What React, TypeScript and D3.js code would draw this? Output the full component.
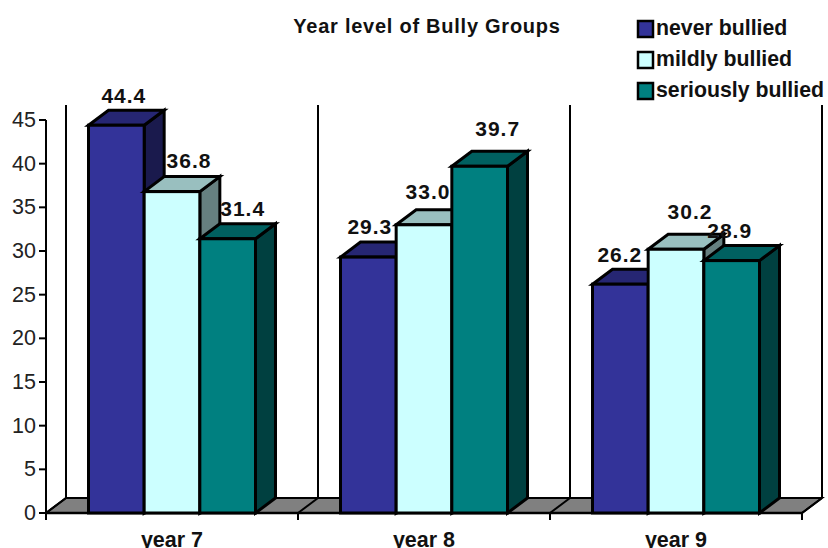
import React from "react";
import * as d3 from "d3";

const categories = ["year 7", "year 8", "year 9"];
const seriesNames = ["never bullied", "mildly bullied", "seriously bullied"];
const neverBullied = [44.4, 29.3, 26.2];
const mildlyBullied = [36.8, 33.0, 30.2];
const seriouslyBullied = [31.4, 39.7, 28.9];
const yTicks = [0, 5, 10, 15, 20, 25, 30, 35, 40, 45];
const title = "Year level of Bully Groups";

const fills = ["#333399", "#CCFFFF", "#008080"];
const tops = ["#262673", "#99BFBF", "#006060"];
const sides = ["#1A1A4D", "#668080", "#004040"];
const labelDx = [[7.5, 17, 15], [1.5, 4, 18], [-0.5, 14, -2]];
const labelDy = [[-22, -24, -23], [-23, -26, -30], [-22, -30, -23]];

const W = 828, H = 548;
const x0 = 46, x1 = 802, yBase = 513, yTop = 120, DX = 20, DY = 15;
const FONT = "'Liberation Sans', Arial, sans-serif";
const STROKE = 3;

export default function App() {
  const values = [neverBullied, mildlyBullied, seriouslyBullied];
  const y = d3.scaleLinear().domain([0, 45]).range([yBase, yTop]);
  const xBand = d3.scaleBand<string>().domain(categories).range([x0, x1]);
  const xInner = d3.scaleBand<string>().domain(seriesNames).range([0, 167]);
  const groupPad = (xBand.bandwidth() - 167) / 2;
  const bars = categories.flatMap((c, ci) => seriesNames.map((s, si) => {
    const v = values[si][ci];
    const left = (xBand(c) as number) + groupPad + (xInner(s) as number);
    return { c, ci, s, si, v, left, right: left + xInner.bandwidth(), top: y(v) };
  }));
  const boundaries = d3.range(categories.length + 1).map(i => x0 + i * xBand.step());
  const poly = (pts: number[][]) => pts.map(p => p.join(",")).join(" ");

  return (
    <svg width={W} height={H} viewBox={`0 0 ${W} ${H}`} style={{ position: "absolute", left: 0, top: 0, background: "#fff" }} fontFamily={FONT}>
      <polygon points={poly([[x0, yBase], [x0 + DX, yBase - DY], [x1 + DX, yBase - DY], [x1, yBase]])} fill="#808080" stroke="#000" strokeWidth={STROKE - 1} />
      {boundaries.map(b => (
        <g key={b}>
          <line x1={b + DX} x2={b + DX} y1={105} y2={yBase - DY} stroke="#000" strokeWidth={2} />
          <line x1={b} x2={b + DX} y1={yBase} y2={yBase - DY} stroke="#000" strokeWidth={2} />
          <line x1={b} x2={b} y1={yBase} y2={yBase + 7} stroke="#000" strokeWidth={2} />
        </g>
      ))}
      <line x1={x0} x2={x0} y1={yTop} y2={yBase} stroke="#000" strokeWidth={2} />
      <line x1={x0 - 1} x2={x1 + 1} y1={yBase} y2={yBase} stroke="#000" strokeWidth={2.5} />
      {yTicks.map(t => (
        <g key={t}>
          <line x1={x0 - 7} x2={x0} y1={y(t)} y2={y(t)} stroke="#000" strokeWidth={2} />
          <text x={x0 - 10} y={y(t) + 7} textAnchor="end" fontSize={21.5} fill="#222">{t}</text>
        </g>
      ))}
      {bars.map(b => (
        <g key={b.c + b.s} stroke="#000" strokeWidth={STROKE} strokeLinejoin="miter">
          <polygon points={poly([[b.right, b.top], [b.right + DX, b.top - DY], [b.right + DX, yBase - DY], [b.right, yBase]])} fill={sides[b.si]} />
          <polygon points={poly([[b.left, b.top], [b.left + DX, b.top - DY], [b.right + DX, b.top - DY], [b.right, b.top]])} fill={tops[b.si]} />
          <rect x={b.left} y={b.top} width={b.right - b.left} height={yBase - b.top} fill={fills[b.si]} />
        </g>
      ))}
      {bars.map(b => (
        <text key={"l" + b.c + b.s} x={(b.left + b.right) / 2 + labelDx[b.ci][b.si]} y={b.top + labelDy[b.ci][b.si]} textAnchor="middle" fontSize={21} letterSpacing={1} fontWeight="bold" fill="#111">
          {b.v.toFixed(1)}
        </text>
      ))}
      {categories.map(c => (
        <text key={c} x={(xBand(c) as number) + xBand.bandwidth() / 2} y={547} textAnchor="middle" fontSize={21.5} fontWeight="bold" fill="#111">{c}</text>
      ))}
      <text x={427} y={33} textAnchor="middle" fontSize={20} letterSpacing={0.75} fontWeight="bold" fill="#111">{title}</text>
      {seriesNames.map((s, i) => (
        <g key={s}>
          <rect x={638} y={21 + i * 31} width={15} height={16} fill={fills[i]} stroke="#000" strokeWidth={2.5} />
          <text x={656} y={35 + i * 31} fontSize={21.3} fontWeight="bold" fill="#111">{s}</text>
        </g>
      ))}
    </svg>
  );
}
